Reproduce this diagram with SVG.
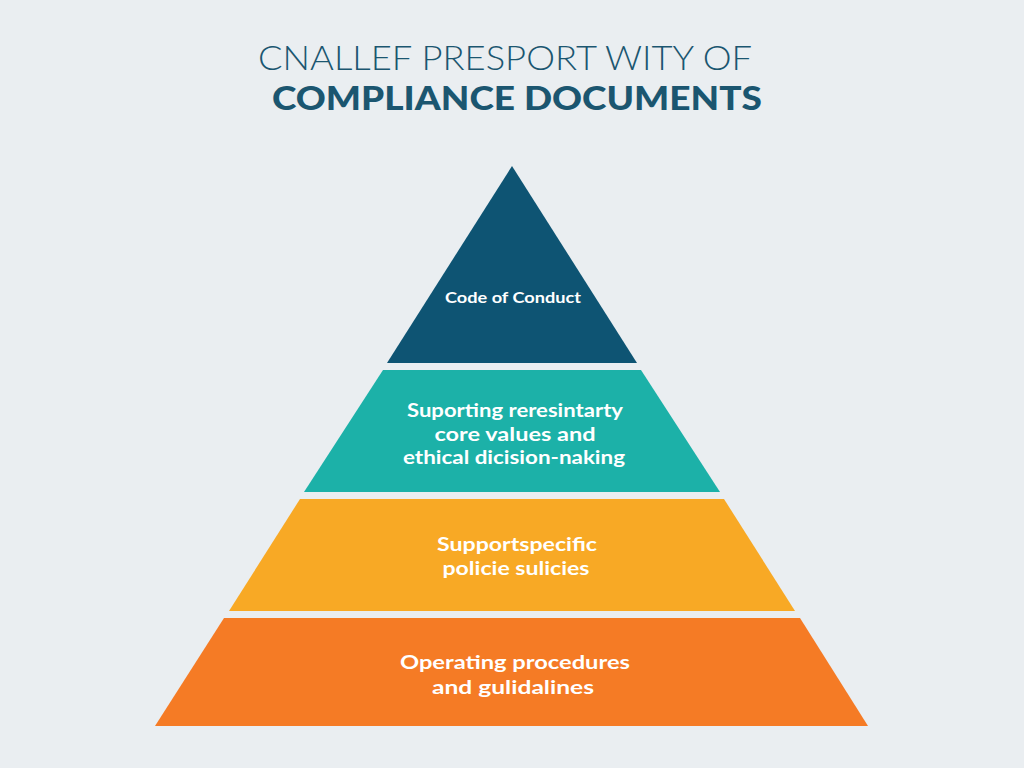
<svg xmlns="http://www.w3.org/2000/svg" width="1024" height="768" viewBox="0 0 1024 768">
  <style>
    .title1 { font-family: Lato, "Open Sans", "Liberation Sans", sans-serif; font-size: 34px; font-weight: 300; fill: #1b5670; }
    .title2 { font-family: Lato, "Open Sans", "Liberation Sans", sans-serif; font-size: 33px; font-weight: 900; fill: #1b5670; }
    .lbl { font-family: Lato, "Open Sans", "Liberation Sans", sans-serif; font-weight: 700; fill: #ffffff; text-anchor: middle; }
    .small { font-size: 16px; }
    .big { font-size: 19.5px; }
  </style>
  <rect width="1024" height="768" fill="#eaeef1"/>
  <g id="title">
    <text class="title1" x="258" y="70" textLength="494" lengthAdjust="spacingAndGlyphs">CNALLEF PRESPORT WITY OF</text>
    <text class="title2" x="272" y="110" textLength="490" lengthAdjust="spacingAndGlyphs">COMPLIANCE DOCUMENTS</text>
  </g>
  <g id="tier1">
    <polygon points="512,166 637,363 387,363" fill="#0e5473"/>
    <text class="lbl small" x="513" y="303" textLength="136" lengthAdjust="spacingAndGlyphs">Code of Conduct</text>
  </g>
  <g id="tier2">
    <polygon points="383,370 641,370 720,492 304,492" fill="#1cb1a8"/>
    <text class="lbl big" x="515" y="417" textLength="216" lengthAdjust="spacingAndGlyphs">Suporting reresintarty</text>
    <text class="lbl big" x="515" y="441" textLength="161" lengthAdjust="spacingAndGlyphs">core values and</text>
    <text class="lbl big" x="514" y="464" textLength="222" lengthAdjust="spacingAndGlyphs">ethical dicision-naking</text>
  </g>
  <g id="tier3">
    <polygon points="300,499 724,499 795,611 229,611" fill="#f8a925"/>
    <text class="lbl big" x="517" y="551" textLength="160" lengthAdjust="spacingAndGlyphs">Supportspecific</text>
    <text class="lbl big" x="516" y="575" textLength="147" lengthAdjust="spacingAndGlyphs">policie sulicies</text>
  </g>
  <g id="tier4">
    <polygon points="224,618 800,618 868,726 155,726" fill="#f57b25"/>
    <text class="lbl big" x="515" y="669" textLength="230" lengthAdjust="spacingAndGlyphs">Operating procedures</text>
    <text class="lbl big" x="513" y="694" textLength="162" lengthAdjust="spacingAndGlyphs">and gulidalines</text>
  </g>
</svg>
